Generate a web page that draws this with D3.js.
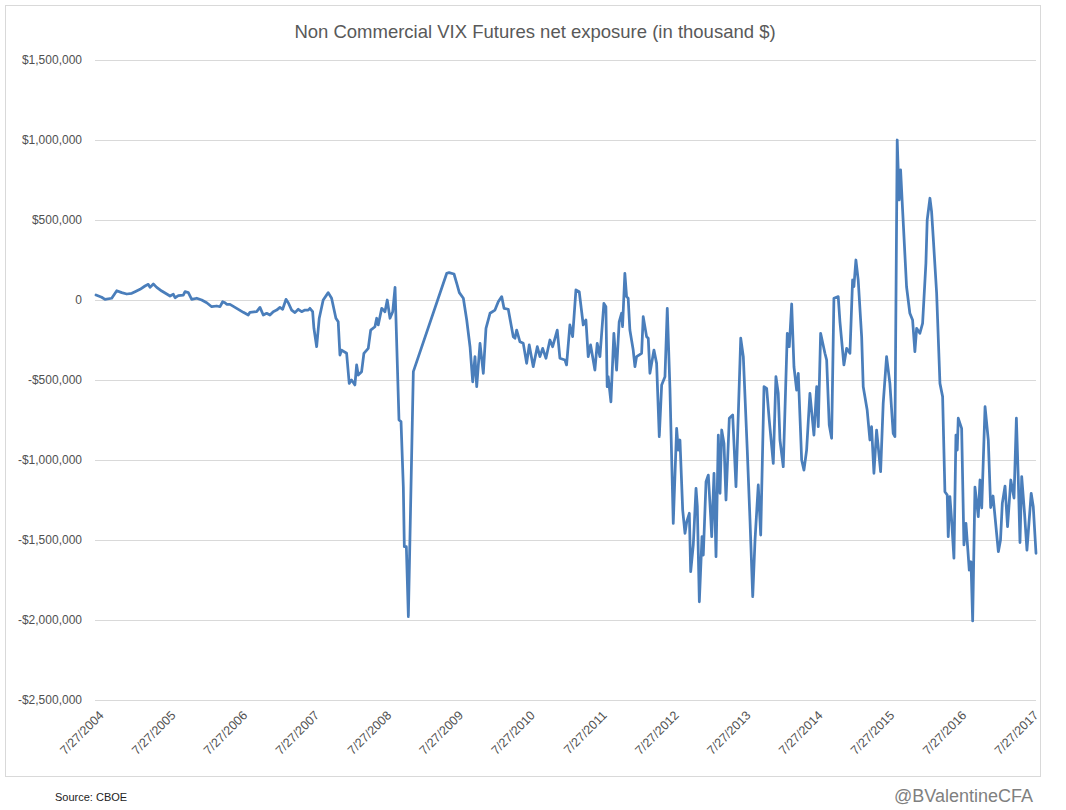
<!DOCTYPE html>
<html>
<head>
<meta charset="utf-8">
<script src="https://cdn.jsdelivr.net/npm/d3@7"></script>
<style>
  html, body { margin: 0; padding: 0; background: #fff; }
  svg { display: block; font-family: "Liberation Sans", Arial, sans-serif; }
  text { -webkit-font-smoothing: antialiased; }
</style>
</head>
<body>
<script>
// ---- Data (weekly readings, decimal years; values in thousand $) ----
const weeks = [
  2004.570, 2004.649, 2004.695, 2004.788, 2004.858, 2004.927, 2004.997, 2005.067, 2005.112, 2005.182,
  2005.251, 2005.297, 2005.321, 2005.367, 2005.414, 2005.484, 2005.553, 2005.599, 2005.645, 2005.669,
  2005.715, 2005.784, 2005.808, 2005.854, 2005.901, 2005.971, 2006.040, 2006.110, 2006.179, 2006.249,
  2006.295, 2006.332, 2006.364, 2006.388, 2006.434, 2006.527, 2006.619, 2006.688, 2006.712, 2006.805,
  2006.851, 2006.897, 2006.944, 2006.990, 2007.036, 2007.083, 2007.129, 2007.167, 2007.213, 2007.245,
  2007.292, 2007.338, 2007.384, 2007.431, 2007.477, 2007.523, 2007.546, 2007.584, 2007.602, 2007.640,
  2007.676, 2007.731, 2007.801, 2007.848, 2007.908, 2007.940, 2007.964, 2007.987, 2008.057, 2008.093,
  2008.126, 2008.172, 2008.196, 2008.218, 2008.265, 2008.297, 2008.357, 2008.391, 2008.450, 2008.474,
  2008.496, 2008.544, 2008.589, 2008.621, 2008.659, 2008.697, 2008.729, 2008.784, 2008.812, 2008.844,
  2008.858, 2008.886, 2008.914, 2008.983, 2009.448, 2009.480, 2009.549, 2009.587, 2009.623, 2009.679,
  2009.726, 2009.772, 2009.809, 2009.841, 2009.865, 2009.911, 2009.957, 2009.994, 2010.050, 2010.119,
  2010.165, 2010.213, 2010.245, 2010.304, 2010.374, 2010.398, 2010.421, 2010.467, 2010.513, 2010.560,
  2010.596, 2010.652, 2010.708, 2010.745, 2010.783, 2010.829, 2010.884, 2010.922, 2010.986, 2011.023,
  2011.093, 2011.116, 2011.162, 2011.200, 2011.246, 2011.292, 2011.348, 2011.385, 2011.417, 2011.450,
  2011.510, 2011.542, 2011.580, 2011.635, 2011.663, 2011.681, 2011.695, 2011.733, 2011.774, 2011.812,
  2011.848, 2011.881, 2011.895, 2011.927, 2011.951, 2011.973, 2011.997, 2012.043, 2012.067, 2012.090,
  2012.160, 2012.182, 2012.229, 2012.252, 2012.275, 2012.331, 2012.368, 2012.405, 2012.438, 2012.484,
  2012.516, 2012.553, 2012.599, 2012.646, 2012.669, 2012.692, 2012.730, 2012.762, 2012.786, 2012.822,
  2012.841, 2012.877, 2012.915, 2012.933, 2012.961, 2012.998, 2013.016, 2013.054, 2013.086, 2013.119,
  2013.133, 2013.165, 2013.193, 2013.225, 2013.249, 2013.272, 2013.304, 2013.332, 2013.378, 2013.425,
  2013.471, 2013.537, 2013.573, 2013.628, 2013.666, 2013.704, 2013.736, 2013.781, 2013.815, 2013.861,
  2013.898, 2013.934, 2013.990, 2014.027, 2014.059, 2014.083, 2014.129, 2014.185, 2014.213, 2014.246,
  2014.278, 2014.315, 2014.338, 2014.385, 2014.417, 2014.454, 2014.500, 2014.556, 2014.594, 2014.616,
  2014.649, 2014.709, 2014.733, 2014.769, 2014.802, 2014.834, 2014.894, 2014.918, 2014.973, 2015.011,
  2015.057, 2015.094, 2015.112, 2015.140, 2015.172, 2015.220, 2015.242, 2015.297, 2015.335, 2015.358,
  2015.391, 2015.428, 2015.484, 2015.520, 2015.567, 2015.613, 2015.659, 2015.683, 2015.715, 2015.742,
  2015.762, 2015.790, 2015.845, 2015.891, 2015.929, 2015.961, 2015.985, 2016.030, 2016.068, 2016.114,
  2016.132, 2016.170, 2016.193, 2016.215, 2016.263, 2016.309, 2016.346, 2016.378, 2016.410, 2016.424,
  2016.447, 2016.471, 2016.503, 2016.531, 2016.549, 2016.563, 2016.610, 2016.642, 2016.670, 2016.716,
  2016.740, 2016.763, 2016.795, 2016.841, 2016.865, 2016.889, 2016.935, 2016.980, 2017.013, 2017.046,
  2017.120, 2017.150, 2017.175, 2017.213, 2017.248, 2017.293, 2017.338, 2017.371, 2017.397, 2017.421,
  2017.445, 2017.484, 2017.518, 2017.546, 2017.577, 2017.606, 2017.644
];
const netExposure = [
  31000, 17000, 4000, 11000, 58000, 46000, 37500, 42000, 52000, 67000,
  87500, 98000, 79000, 100000, 79000, 56000, 37500, 25000, 36000, 14000,
  27000, 31000, 52000, 46000, 4000, 11000, 0, -17000, -42000, -37500,
  -42000, -11000, -17000, -27000, -27000, -52000, -77000, -94000, -77000, -73000,
  -46000, -94000, -83000, -94000, -73000, -63000, -46000, -58000, 4000, -17000,
  -63000, -79000, -58000, -73000, -63000, -63000, -52000, -73000, -177000, -292000,
  -114000, 0, 46000, 11000, -114000, -136000, -344000, -313000, -333000, -521000,
  -500000, -531000, -406000, -469000, -448000, -333000, -302000, -188000, -167000, -114000,
  -156000, -52000, -73000, 0, -114000, -73000, 79000, -750000, -760000, -1167000,
  -1542000, -1542000, -1979000, -448000, 167000, 171000, 162500, 104000, 46000, 11000,
  -125000, -292000, -511000, -354000, -542000, -271000, -458000, -177000, -83000, -63000,
  -11000, 21000, -52000, -58000, -229000, -239000, -188000, -261000, -271000, -396000,
  -281000, -417000, -292000, -354000, -302000, -364000, -250000, -292000, -188000, -364000,
  -375000, -406000, -156000, -229000, 63000, 52000, -156000, -125000, -354000, -281000,
  -438000, -271000, -354000, -21000, -42000, -542000, -479000, -636000, -208000, -438000,
  -136000, -83000, -167000, 167000, 21000, 11000, -188000, -313000, -417000, -354000,
  -333000, -104000, -229000, -239000, -458000, -313000, -396000, -854000, -531000, -479000,
  -52000, -552000, -1396000, -802000, -938000, -875000, -1313000, -1458000, -1386000, -1333000,
  -1698000, -1531000, -1177000, -1292000, -1886000, -1479000, -1594000, -1136000, -1094000, -1354000,
  -1479000, -1083000, -1604000, -844000, -1208000, -812500, -896000, -1250000, -739000, -719000,
  -1167000, -239000, -354000, -938000, -1375000, -1854000, -1500000, -1156000, -1469000, -542000,
  -552000, -750000, -1021000, -479000, -583000, -875000, -1042000, -208000, -292000, -25000,
  -417000, -563000, -458000, -1000000, -1063000, -938000, -583000, -844000, -542000, -792000,
  -208000, -333000, -375000, -781000, -864000, 11000, 21000, -136000, -406000, -302000,
  -333000, 125000, 83000, 250000, 125000, -229000, -542000, -688000, -875000, -792000,
  -1083000, -813000, -1073000, -646000, -354000, -521000, -833000, -854000, 1000000, 625000,
  813000, 563000, 83000, -83000, -125000, -323000, -177000, -208000, -146000, 229000,
  500000, 636000, 552000, 396000, 42000, -521000, -604000, -1198000, -1219000, -1479000,
  -1229000, -1375000, -1614000, -844000, -938000, -739000, -802000, -1531000, -1396000, -1688000,
  -1636000, -2006000, -1169000, -1354000, -1125000, -1300000, -667000, -875000, -1297000, -1225000,
  -1573000, -1500000, -1271000, -1163000, -1417000, -1125000, -1238000, -739000, -1113000, -1516000,
  -1104000, -1331000, -1563000, -1394000, -1208000, -1292000, -1583000
];
const tickYears = [2004, 2005, 2006, 2007, 2008, 2009, 2010, 2011, 2012, 2013, 2014, 2015, 2016, 2017];
const yTicks = [1500000, 1000000, 500000, 0, -500000, -1000000, -1500000, -2000000, -2500000];
const titleText = "Non Commercial VIX Futures net exposure (in thousand $)";
const sourceText = "Source: CBOE";
const handleText = "@BValentineCFA";

// ---- helpers ----
function toDate(t) {
  const y = Math.floor(t);
  const s = Date.UTC(y, 0, 1), e = Date.UTC(y + 1, 0, 1);
  return new Date(s + (t - y) * (e - s));
}
const data = weeks.map((w, i) => ({ date: toDate(w), value: netExposure[i] }));

const W = 1066, H = 810;
const plot = { left: 95, right: 1036, top: 60, bottom: 700 };

const svg = d3.select("body").append("svg").attr("width", W).attr("height", H);
svg.append("rect").attr("width", W).attr("height", H).attr("fill", "#fff");
svg.append("rect").attr("x", 5.5).attr("y", 5.5).attr("width", 1035).attr("height", 771)
  .attr("fill", "none").attr("stroke", "#d9d9d9").attr("stroke-width", 1);

const x = d3.scaleUtc()
  .domain([toDate(weeks[0]), toDate(weeks[weeks.length - 1])])
  .range([96, plot.right]);
const y = d3.scaleLinear().domain([-2500000, 1500000]).range([plot.bottom, plot.top]);

const fmtMoney = v => v === 0 ? "0" : (v < 0 ? "-" : "") + "$" + d3.format(",")(Math.abs(v));

// y axis with gridlines
const gy = svg.append("g").attr("transform", `translate(${plot.left},0)`)
  .call(d3.axisLeft(y).tickValues(yTicks).tickFormat(fmtMoney)
    .tickSize(-(plot.right - plot.left)).tickPadding(13));
gy.select(".domain").remove();
gy.selectAll(".tick line").attr("stroke", "#d9d9d9").attr("stroke-width", 1);
gy.selectAll(".tick text").attr("fill", "#505050").style("font-size", "12px");

// x axis (labels only; the bottom gridline acts as the baseline)
const tickDates = tickYears.map(yr => new Date(Date.UTC(yr, 6, 27)));
const gx = svg.append("g").attr("transform", `translate(0,${plot.bottom})`)
  .call(d3.axisBottom(x).tickValues(tickDates).tickFormat(d3.utcFormat("%-m/%-d/%Y")).tickSize(0));
gx.select(".domain").remove();
gx.selectAll(".tick text")
  .attr("x", 0).attr("y", 0).attr("dy", "0.35em")
  .attr("transform", "translate(5,13) rotate(-45)")
  .style("text-anchor", "end")
  .style("font-size", "12.5px")
  .attr("fill", "#505050");

// line
const line = d3.line().x(d => x(d.date)).y(d => y(d.value));
svg.append("path").datum(data)
  .attr("d", line)
  .attr("fill", "none")
  .attr("stroke", "#4a7ebb")
  .attr("stroke-width", 2.75)
  .attr("stroke-linejoin", "round")
  .attr("stroke-linecap", "round");

// title
svg.append("text").attr("x", 535).attr("y", 38).attr("text-anchor", "middle")
  .attr("fill", "#595959").style("font-size", "18.5px").text(titleText);

// source & handle
svg.append("text").attr("x", 55).attr("y", 801).attr("fill", "#222")
  .style("font-size", "11px").text(sourceText);
svg.append("text").attr("x", 1033).attr("y", 802).attr("text-anchor", "end")
  .attr("fill", "#7f7f7f").style("font-size", "18px").text(handleText);
</script>
</body>
</html>
